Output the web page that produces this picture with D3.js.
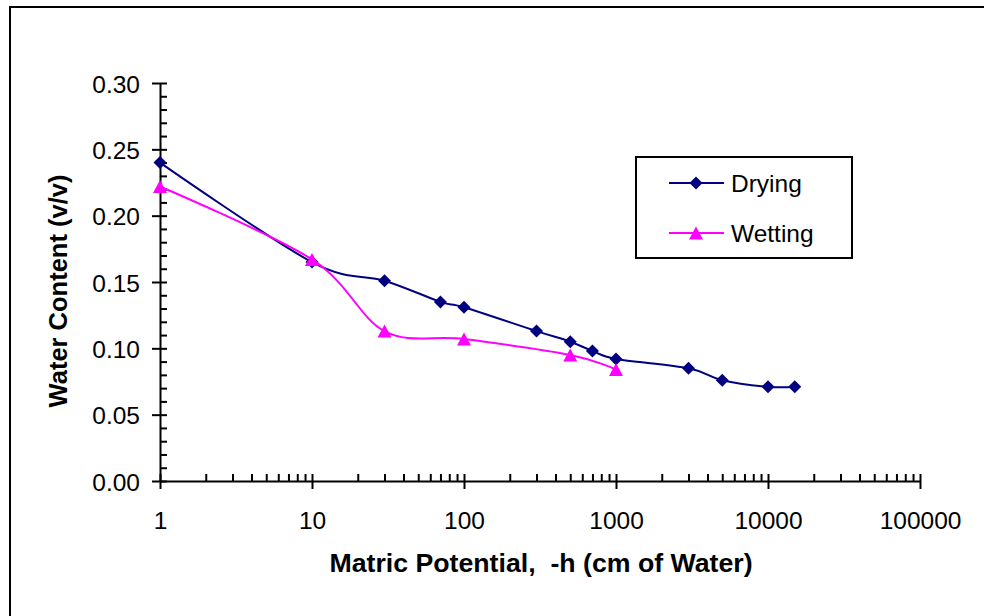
<!DOCTYPE html>
<html>
<head>
<meta charset="utf-8">
<script src="https://cdn.jsdelivr.net/npm/d3@7"></script>
<style>
  html, body { margin: 0; padding: 0; background: #fff; }
  svg { display: block; font-family: "Liberation Sans", Arial, sans-serif; }
</style>
</head>
<body>
<svg id="chart" width="984" height="616"></svg>
<script>
// Soil water retention: matric potential (cm of water) vs volumetric water content
const dryingSuction = [1, 10, 30, 70, 100, 300, 500, 700, 1000, 3000, 5000, 10000, 15000];
const dryingTheta   = [0.240, 0.165, 0.151, 0.135, 0.131, 0.113, 0.105, 0.098, 0.092, 0.085, 0.076, 0.071, 0.071];
const wettingSuction = [1, 10, 30, 100, 500, 1000];
const wettingTheta   = [0.222, 0.167, 0.113, 0.107, 0.095, 0.084];

const xTickValues = [1, 10, 100, 1000, 10000, 100000];
const xTickLabels = ["1", "10", "100", "1000", "10000", "100000"];
const yTickValues = [0.00, 0.05, 0.10, 0.15, 0.20, 0.25, 0.30];
const yTickLabels = ["0.00", "0.05", "0.10", "0.15", "0.20", "0.25", "0.30"];
const seriesNames = ["Drying", "Wetting"];

const svg = d3.select("#chart");

// frame around the chart area
svg.append("path")
  .attr("d", "M10,620 L10,7 L990,7")
  .attr("fill", "none").attr("stroke", "#000").attr("stroke-width", 2);

const plot = { left: 160, right: 920, top: 83, bottom: 481 };

const x = d3.scaleLog().domain([1, 100000]).range([plot.left, plot.right]);
const y = d3.scaleLinear().domain([0, 0.30]).range([plot.bottom, plot.top]);

const tickFont = "24.5px";

// minor ticks on the log axis (2..9 per decade)
const xMinor = [];
for (let d = 1; d < 100000; d *= 10) {
  for (let k = 2; k <= 9; k++) xMinor.push(d * k);
}
const yMinor = d3.range(0, 0.30001, 0.01).filter((v, i) => i % 5 !== 0);

// x axis
const gx = svg.append("g").attr("transform", `translate(0,${plot.bottom})`);
gx.call(d3.axisTop(x).tickValues(xMinor).tickSize(7).tickSizeOuter(0).tickFormat(""));
gx.call(g => g.select(".domain").remove());
const gxMaj = svg.append("g").attr("transform", `translate(0,${plot.bottom})`)
  .call(d3.axisBottom(x).tickValues(xTickValues).tickSize(8).tickSizeOuter(0)
    .tickFormat((d, i) => xTickLabels[i]));
gxMaj.selectAll(".tick line").attr("y1", -7);
gxMaj.selectAll(".tick text").attr("y", 48).attr("dy", 0)
  .style("font-size", tickFont).attr("fill", "#000");

// y axis
const gy = svg.append("g").attr("transform", `translate(${plot.left},0)`);
gy.call(d3.axisRight(y).tickValues(yMinor).tickSize(7).tickSizeOuter(0).tickFormat(""));
gy.select(".domain").remove();
const gyMaj = svg.append("g").attr("transform", `translate(${plot.left},0)`)
  .call(d3.axisLeft(y).tickValues(yTickValues).tickSize(8).tickSizeOuter(0).tickPadding(12)
    .tickFormat((d, i) => yTickLabels[i]));
gyMaj.selectAll(".tick line").attr("x1", 7);
gyMaj.selectAll(".tick text").attr("dy", "0.37em")
  .style("font-size", tickFont).attr("fill", "#000");

svg.selectAll(".domain").attr("stroke-width", 2).attr("stroke", "#000");
svg.selectAll(".tick line").attr("stroke-width", 2).attr("stroke", "#000");

// axis titles
svg.append("text")
  .attr("x", (plot.left + plot.right) / 2 + 1).attr("y", 572)
  .attr("text-anchor", "middle")
  .style("font-size", "26.7px").style("font-weight", "bold")
  .style("white-space", "pre")
  .text("Matric Potential,  -h (cm of Water)");

svg.append("text")
  .attr("transform", `translate(67,291) rotate(-90)`)
  .attr("text-anchor", "middle")
  .style("font-size", "25.5px").style("font-weight", "bold")
  .text("Water Content (v/v)");

// marker shapes
const diamond = (r) => `M0,${-r}L${r},0L0,${r}L${-r},0Z`;
const triangle = (w, h) => `M0,${-h / 2}L${w / 2},${h / 2}L${-w / 2},${h / 2}Z`;

const line = d3.line()
  .x(d => x(d[0])).y(d => y(d[1]))
  .curve(d3.curveCardinal.tension(0));

const drying = dryingSuction.map((s, i) => [s, dryingTheta[i]]);
const wetting = wettingSuction.map((s, i) => [s, wettingTheta[i]]);

const series = [
  { name: seriesNames[0], data: drying, color: "#000080", marker: diamond(6.5) },
  { name: seriesNames[1], data: wetting, color: "#FF00FF", marker: triangle(14, 13) }
];

series.forEach(s => {
  svg.append("path")
    .datum(s.data)
    .attr("d", line)
    .attr("fill", "none")
    .attr("stroke", s.color)
    .attr("stroke-width", 2);
  svg.append("g").selectAll("path")
    .data(s.data)
    .join("path")
    .attr("transform", d => `translate(${x(d[0])},${y(d[1])})`)
    .attr("d", s.marker)
    .attr("fill", s.color);
});

// legend
const legend = svg.append("g");
legend.append("rect")
  .attr("x", 636).attr("y", 157).attr("width", 216).attr("height", 101)
  .attr("fill", "#fff").attr("stroke", "#000").attr("stroke-width", 2);

series.forEach((s, i) => {
  const ly = 183 + i * 50;
  legend.append("line")
    .attr("x1", 669).attr("x2", 724).attr("y1", ly).attr("y2", ly)
    .attr("stroke", s.color).attr("stroke-width", 2);
  legend.append("path")
    .attr("transform", `translate(696,${ly})`)
    .attr("d", s.marker)
    .attr("fill", s.color);
  legend.append("text")
    .attr("x", 731).attr("y", ly + 8.5)
    .style("font-size", tickFont)
    .text(s.name);
});
</script>
</body>
</html>
